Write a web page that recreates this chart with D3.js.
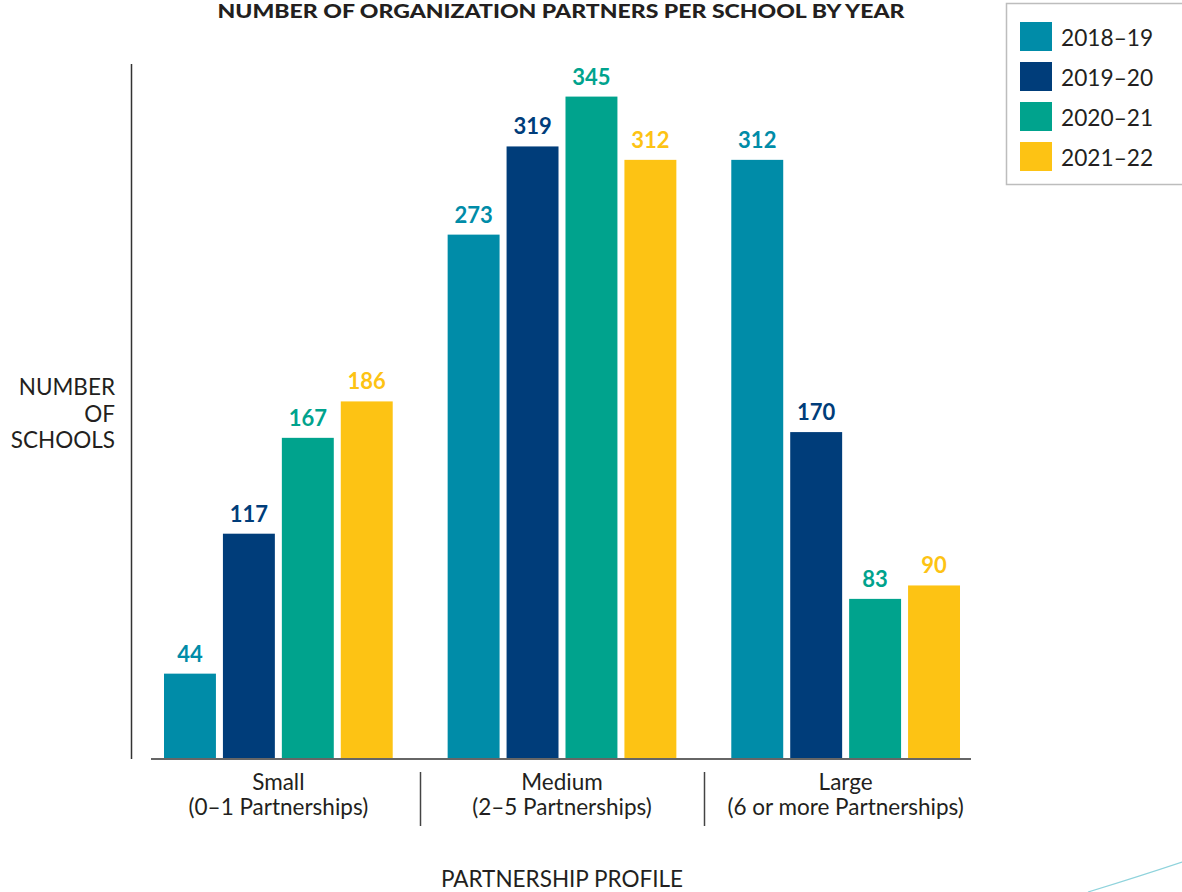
<!DOCTYPE html>
<html>
<head>
<meta charset="utf-8">
<script src="https://cdn.jsdelivr.net/npm/d3@7"></script>
<style>
  html, body { margin: 0; padding: 0; background: #fff; }
  svg { display: block; font-family: Lato, "Open Sans", sans-serif; }
</style>
</head>
<body>
<svg id="chart" width="1182" height="892"></svg>
<script>
// Partnership profiles (x categories) and their two-line labels
const categories = ["Small", "Medium", "Large"];
const categorySubLabels = ["(0–1 Partnerships)", "(2–5 Partnerships)", "(6 or more Partnerships)"];
// School years (series)
const years = ["2018–19", "2019–20", "2020–21", "2021–22"];
// Number of schools per profile, one array per year
const values2018 = [44, 273, 312];
const values2019 = [117, 319, 170];
const values2020 = [167, 345, 83];
const values2021 = [186, 312, 90];
const seriesValues = [values2018, values2019, values2020, values2021];
const colors = ["#008ca8", "#003d7a", "#00a38d", "#fdc314"];

const svg = d3.select("#chart");
const ink = "#231f20";

const baseY = 758;
const y = d3.scaleLinear().domain([0, 362]).range([baseY, 64]);
const x0 = d3.scaleBand().domain(categories).range([164, 960]).paddingInner(55 / 284).paddingOuter(0);
const x1 = d3.scaleBand().domain(years).range([0, x0.bandwidth()]).paddingInner(7 / 59);
const color = d3.scaleOrdinal().domain(years).range(colors);

// Title
svg.append("text")
  .attr("x", 561).attr("y", 18)
  .attr("text-anchor", "middle")
  .attr("font-size", 19).attr("font-weight", 900).attr("fill", ink)
  .attr("textLength", 687).attr("lengthAdjust", "spacingAndGlyphs")
  .text("NUMBER OF ORGANIZATION PARTNERS PER SCHOOL BY YEAR");

// Flatten into bar records
const bars = [];
categories.forEach((c, ci) => {
  years.forEach((yr, yi) => {
    bars.push({ category: c, year: yr, value: seriesValues[yi][ci] });
  });
});

const g = svg.append("g");
g.selectAll("rect.bar").data(bars).join("rect")
  .attr("class", "bar")
  .attr("x", d => x0(d.category) + x1(d.year))
  .attr("width", x1.bandwidth())
  .attr("y", d => y(d.value))
  .attr("height", d => y(0) - y(d.value))
  .attr("fill", d => color(d.year));

g.selectAll("text.val").data(bars).join("text")
  .attr("class", "val")
  .attr("x", d => x0(d.category) + x1(d.year) + x1.bandwidth() / 2)
  .attr("y", d => y(d.value) - 12)
  .attr("text-anchor", "middle")
  .attr("font-size", 22).attr("font-weight", 700)
  .attr("fill", d => color(d.year))
  .text(d => d.value);

// Vertical axis line
svg.append("line")
  .attr("x1", 131.5).attr("x2", 131.5)
  .attr("y1", y.range()[1]).attr("y2", baseY + 1)
  .attr("stroke", "#333").attr("stroke-width", 1.5);

// Baseline
svg.append("line")
  .attr("x1", 151).attr("x2", 971)
  .attr("y1", baseY + 1).attr("y2", baseY + 1)
  .attr("stroke", "#666").attr("stroke-width", 2);

// Category labels
const catG = svg.append("g").attr("font-size", 22.5).attr("fill", ink).attr("text-anchor", "middle");
categories.forEach((c, i) => {
  const cx = x0(c) + x0.bandwidth() / 2;
  catG.append("text").attr("x", cx).attr("y", 790).text(c);
  catG.append("text").attr("x", cx).attr("y", 815).text(categorySubLabels[i]);
});

// Separators between category labels
categories.slice(1).forEach(c => {
  const sx = Math.round((x0(c) - x0.step() * x0.paddingInner() / 2)) + 0.5;
  svg.append("line")
    .attr("x1", sx).attr("x2", sx)
    .attr("y1", 772).attr("y2", 826)
    .attr("stroke", "#444").attr("stroke-width", 1.5);
});

// Y-axis title
const yTitle = svg.append("text")
  .attr("text-anchor", "end").attr("font-size", 22.5).attr("fill", ink);
["NUMBER", "OF", "SCHOOLS"].forEach((t, i) => {
  yTitle.append("tspan").attr("x", 115).attr("y", 395 + i * 26.5).text(t);
});

// X-axis title
svg.append("text")
  .attr("x", 562).attr("y", 887)
  .attr("text-anchor", "middle").attr("font-size", 22.5).attr("fill", ink)
  .text("PARTNERSHIP PROFILE");

// Legend
const legend = svg.append("g");
legend.append("rect")
  .attr("x", 1006.5).attr("y", 3.5).attr("width", 180).attr("height", 181)
  .attr("fill", "#fff").attr("stroke", "#bdbdbd").attr("stroke-width", 1.5);
years.forEach((yr, i) => {
  legend.append("rect")
    .attr("x", 1020).attr("y", 22 + i * 40)
    .attr("width", 32).attr("height", 29)
    .attr("fill", color(yr));
  legend.append("text")
    .attr("x", 1061).attr("y", 46 + i * 40)
    .attr("font-size", 22.7).attr("fill", ink)
    .text(yr);
});

// Decorative swoosh at lower right
svg.append("path")
  .attr("d", "M1088,892 Q1140,876 1182,862")
  .attr("fill", "none").attr("stroke", "#8fd3dc").attr("stroke-width", 1.2);
</script>
</body>
</html>
